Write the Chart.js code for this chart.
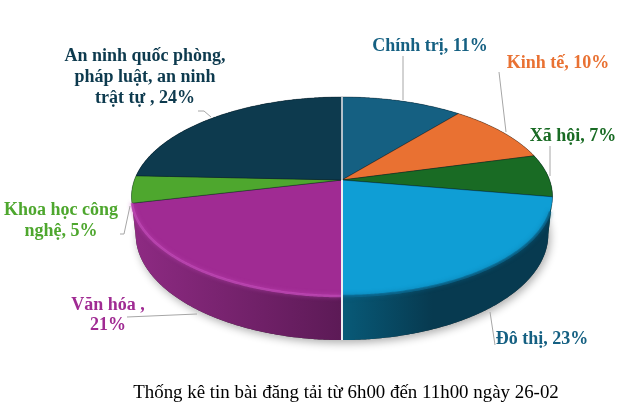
<!DOCTYPE html>
<html>
<head>
<meta charset="utf-8">
<title>Thống kê tin bài</title>
<script src="https://cdn.jsdelivr.net/npm/chart.js@4"></script>
<style>
html, body { margin: 0; padding: 0; background: #fff; }
canvas { display: block; }
</style>
</head>
<body>
<canvas id="pieChart" width="624" height="413"></canvas>
<script>
var categories = ["Chính trị", "Kinh tế", "Xã hội", "Đô thị", "Văn hóa", "Khoa học công nghệ", "An ninh quốc phòng, pháp luật, an ninh trật tự"];
// shares as drawn in the picture (the printed labels are rounded differently)
var sliceValues = [10.9, 9.9, 6.9, 22.3, 21.3, 4.4, 24.3];
var percentLabels = ["11%", "10%", "7%", "23%", "21%", "5%", "24%"];
var topColors = ["#156082", "#E97132", "#196B24", "#0F9ED5", "#A02B93", "#4EA72E", "#0D3A4E"];
var sideLeft = ["#0d3f55", "#8a4a22", "#0f4016", "#07506c", "#8d2a82", "#3c8223", "#08242f"];
var sideRight = ["#0d3f55", "#8a4a22", "#0f4016", "#073a50", "#5c1a56", "#3c8223", "#08242f"];
var caption = "Thống kê tin bài đăng tải từ 6h00 đến 11h00 ngày 26-02";

// perspective of the tilted disc
var cx = 342, cy = 180, radius = 207.6, tiltK = 96.8, persp = 0.166, depth = 36.7, bottomScale = 0.98;

function project(theta, dropped) {
    var u = Math.sin(theta), v = Math.cos(theta);
    var w = 1 / (1 + persp * v);
    return {
        x: cx + radius * u * w * (dropped ? bottomScale : 1),
        y: cy - tiltK * v * w + (dropped ? depth * w : 0)
    };
}

function traceRim(ctx, from, to, dropped, first) {
    var n = Math.max(2, Math.ceil(Math.abs(to - from) / 0.008));
    for (var i = 0; i <= n; i++) {
        var p = project(from + (to - from) * i / n, dropped);
        if (i === 0 && first) ctx.moveTo(p.x, p.y);
        else ctx.lineTo(p.x, p.y);
    }
}

function drawShadow(ctx) {
    ctx.save();
    ctx.shadowColor = "rgba(0,0,0,0.32)";
    ctx.shadowBlur = 9;
    ctx.shadowOffsetY = 3;
    ctx.shadowOffsetX = 2;
    ctx.fillStyle = "#333";
    ctx.beginPath();
    traceRim(ctx, 0, Math.PI * 2, true, true);
    ctx.closePath();
    ctx.fill();
    ctx.restore();
}

function drawSide(ctx, a, b, i) {
    var left = project(b, true).x, right = project(a, true).x;
    var g = ctx.createLinearGradient(Math.min(left, right), 0, Math.max(left, right), 0);
    g.addColorStop(0, sideLeft[i]);
    g.addColorStop(1, sideRight[i]);
    if (i === 3) { // Đô thị gets lighter towards the seam
        g = ctx.createLinearGradient(cx, 0, cx + 90, 0);
        g.addColorStop(0, "#085a78");
        g.addColorStop(1, "#073a50");
    }
    ctx.fillStyle = g;
    ctx.beginPath();
    traceRim(ctx, a, b, false, true);
    traceRim(ctx, b, a, true, false);
    ctx.closePath();
    ctx.fill();
}

function drawTop(ctx, a, b, i) {
    ctx.fillStyle = topColors[i];
    ctx.strokeStyle = "rgba(0,20,30,0.45)";
    ctx.lineWidth = 0.8;
    ctx.beginPath();
    ctx.moveTo(cx, cy);
    traceRim(ctx, a, b, false, false);
    ctx.closePath();
    ctx.fill();
    ctx.stroke();
}

// soft bevel along the front rim
function drawBevel(ctx, a, b, color, width, blur) {
    ctx.save();
    ctx.strokeStyle = color;
    ctx.lineWidth = width;
    ctx.lineCap = "butt";
    ctx.shadowColor = color;
    ctx.shadowBlur = blur;
    ctx.beginPath();
    traceRim(ctx, a, b, false, true);
    ctx.stroke();
    ctx.restore();
}

function drawSeam(ctx, theta, dropped, width) {
    var rim = project(theta, dropped);
    ctx.save();
    ctx.strokeStyle = "#eeeef2";
    ctx.lineWidth = width;
    ctx.beginPath();
    ctx.moveTo(cx, cy);
    ctx.lineTo(rim.x, rim.y);
    ctx.stroke();
    ctx.restore();
}

var pie3d = {
    id: "pie3d",
    // the flat arcs are replaced by a tilted version, from the angles Chart.js computed
    beforeDatasetsDraw: function (chart) {
        var ctx = chart.ctx;
        var arcs = chart.getDatasetMeta(0).data;
        var angles = arcs.map(function (arc) {
            return [arc.startAngle + Math.PI / 2, arc.endAngle + Math.PI / 2];
        });
        drawShadow(ctx);
        // back to front: the sides at the sides of the disc first
        [0, 1, 2, 6, 5, 4, 3].forEach(function (i) {
            drawSide(ctx, angles[i][0], angles[i][1], i);
        });
        angles.forEach(function (a, i) {
            drawTop(ctx, a[0], a[1], i);
        });
        drawBevel(ctx, angles[4][0], angles[4][1], "rgba(190,70,180,0.85)", 2.5, 4);
        drawBevel(ctx, Math.PI * 0.6, angles[3][1], "rgba(10,105,145,0.8)", 2.5, 4);
        drawSeam(ctx, angles[0][0], false, 1.5);
        drawSeam(ctx, angles[3][1], true, 2);
        return false;
    },
    afterDraw: function (chart, args, opts) {
        var ctx = chart.ctx;
        ctx.save();
        ctx.strokeStyle = "#a6a6a6";
        ctx.lineWidth = 1;
        opts.leaders.forEach(function (line) {
            ctx.beginPath();
            line.forEach(function (p, i) {
                if (i === 0) ctx.moveTo(p[0], p[1]);
                else ctx.lineTo(p[0], p[1]);
            });
            ctx.stroke();
        });
        ctx.textAlign = "center";
        ctx.textBaseline = "middle";
        ctx.font = "bold 18px 'Liberation Serif'";
        opts.labels.forEach(function (lab) {
            ctx.fillStyle = lab.color;
            lab.lines.forEach(function (text, i) {
                ctx.fillText(text, lab.x, lab.y + i * lab.step);
            });
        });
        ctx.fillStyle = "#000";
        ctx.font = "18.9px 'Liberation Serif'";
        ctx.fillText(caption, 346, 393);
        ctx.restore();
    }
};

new Chart(document.getElementById("pieChart"), {
    type: "pie",
    data: {
        labels: categories,
        datasets: [{ data: sliceValues, backgroundColor: topColors, borderWidth: 0 }]
    },
    plugins: [pie3d],
    options: {
        responsive: false,
        animation: false,
        devicePixelRatio: 1,
        plugins: {
            legend: { display: false },
            tooltip: { enabled: false },
            pie3d: {
                leaders: [
                    [[403, 56], [403, 100]],
                    [[499, 72], [506, 132]],
                    [[550, 146], [550, 176]],
                    [[490, 312], [495, 345]],
                    [[127, 317], [197, 314]],
                    [[120, 234], [124, 234], [130, 206]],
                    [[198, 111], [204, 111], [211, 117]]
                ],
                labels: [
                    { lines: [categories[0] + ", " + percentLabels[0]], x: 430, y: 46, step: 0, color: "#156082" },
                    { lines: [categories[1] + ", " + percentLabels[1]], x: 558, y: 63, step: 0, color: "#E97132" },
                    { lines: [categories[2] + ", " + percentLabels[2]], x: 573, y: 136, step: 0, color: "#196B24" },
                    { lines: [categories[3] + ", " + percentLabels[3]], x: 542, y: 339, step: 0, color: "#156082" },
                    { lines: [categories[4] + " ,", percentLabels[4]], x: 108, y: 305, step: 20.5, color: "#A02B93" },
                    { lines: ["Khoa học công", "nghệ, " + percentLabels[5]], x: 61, y: 210, step: 21, color: "#4EA72E" },
                    { lines: ["An ninh quốc phòng,", "pháp luật, an ninh", "trật tự , " + percentLabels[6]], x: 145, y: 56, step: 21, color: "#0D3A4E" }
                ]
            }
        }
    }
});
</script>
</body>
</html>
